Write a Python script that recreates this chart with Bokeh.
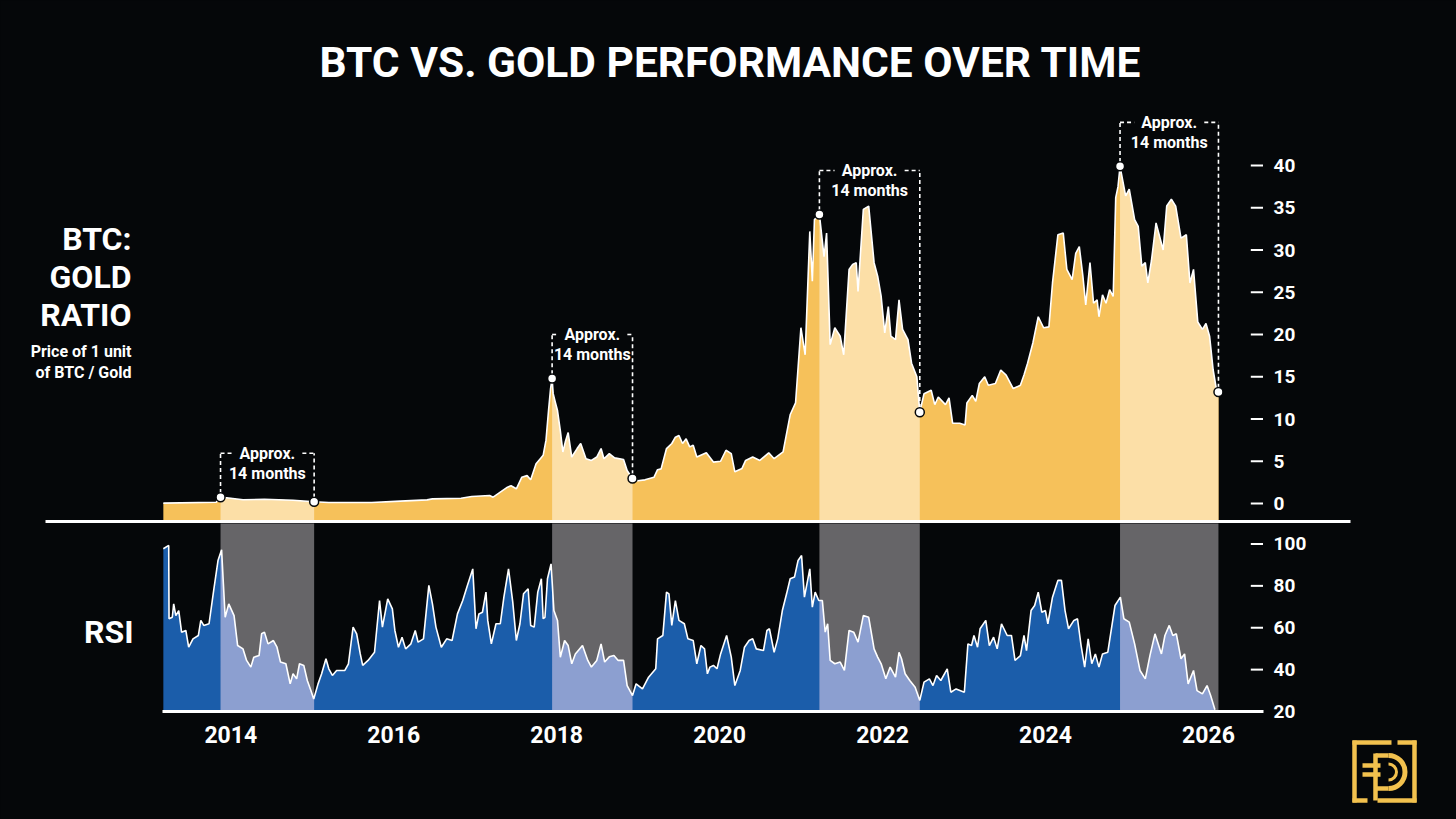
import numpy as np
from bokeh.plotting import figure
from bokeh.models import Range1d
from bokeh.core.properties import value
from bokeh.embed import file_html
from bokeh.resources import INLINE

try:
    from bokeh.models import GlobalInlineStyleSheet
except Exception:
    GlobalInlineStyleSheet = None

BG = "#050709"
GOLD = "#F6C15A"
GOLD_LIGHT = "#FCDFA7"
BLUE = "#1B5DAA"
BLUE_LIGHT = "#8C9FD0"
GRAY = "#666568"
LOGO = "#F2C14E"
FONT = "Roboto"

title = "BTC VS. GOLD PERFORMANCE OVER TIME"
year_ticks = [2014, 2016, 2018, 2020, 2022, 2024, 2026]
ratio_ticks = [0, 5, 10, 15, 20, 25, 30, 35, 40]
rsi_ticks = [20, 40, 60, 80, 100]

# highlighted ~14 month periods (fractional years)
hl_start = [2013.874, 2017.944, 2021.225, 2024.915]
hl_end = [2015.023, 2018.931, 2022.457, 2026.123]
hl_label1 = "Approx."
hl_label2 = "14 months"

# BTC : Gold ratio
ratio_t = [2013.172, 2013.821, 2013.874, 2013.975, 2014.150, 2014.413, 2014.764, 2015.023,
           2015.203, 2015.729, 2016.080, 2016.409, 2016.475, 2016.826, 2016.957, 2017.177,
           2017.220, 2017.308, 2017.396, 2017.440, 2017.505, 2017.571, 2017.637, 2017.681,
           2017.747, 2017.799, 2017.834, 2017.869, 2017.900, 2017.925, 2017.944, 2017.957,
           2017.983, 2018.010, 2018.045, 2018.076, 2018.106, 2018.141, 2018.185, 2018.251,
           2018.295, 2018.360, 2018.426, 2018.492, 2018.545, 2018.580, 2018.646, 2018.711,
           2018.821, 2018.865, 2018.931, 2018.996, 2019.084, 2019.194, 2019.238, 2019.282,
           2019.348, 2019.413, 2019.457, 2019.501, 2019.545, 2019.589, 2019.633, 2019.676,
           2019.720, 2019.837, 2019.924, 2020.012, 2020.078, 2020.143, 2020.187, 2020.275,
           2020.319, 2020.406, 2020.494, 2020.603, 2020.669, 2020.779, 2020.866, 2020.932,
           2020.998, 2021.050, 2021.107, 2021.138, 2021.164, 2021.225, 2021.282, 2021.313,
           2021.357, 2021.414, 2021.480, 2021.523, 2021.589, 2021.633, 2021.677, 2021.699,
           2021.764, 2021.830, 2021.896, 2021.940, 2021.983, 2022.027, 2022.071, 2022.102,
           2022.159, 2022.202, 2022.246, 2022.312, 2022.356, 2022.421, 2022.457, 2022.509,
           2022.597, 2022.641, 2022.684, 2022.772, 2022.816, 2022.860, 2022.947, 2023.013,
           2023.035, 2023.101, 2023.144, 2023.188, 2023.254, 2023.298, 2023.385, 2023.451,
           2023.517, 2023.604, 2023.692, 2023.736, 2023.780, 2023.845, 2023.911, 2023.977,
           2024.042, 2024.086, 2024.152, 2024.218, 2024.262, 2024.327, 2024.371, 2024.415,
           2024.459, 2024.494, 2024.546, 2024.590, 2024.634, 2024.656, 2024.700, 2024.743,
           2024.787, 2024.831, 2024.862, 2024.890, 2024.915, 2024.984, 2025.028, 2025.094,
           2025.138, 2025.182, 2025.225, 2025.256, 2025.300, 2025.357, 2025.401, 2025.444,
           2025.488, 2025.545, 2025.598, 2025.663, 2025.729, 2025.773, 2025.817, 2025.869,
           2025.926, 2025.970, 2026.014, 2026.058, 2026.093, 2026.123]
ratio_v = [0.05, 0.15, 0.75, 0.65, 0.45, 0.5, 0.38, 0.2,
           0.12, 0.12, 0.28, 0.43, 0.55, 0.63, 0.83, 0.95,
           0.75, 1.34, 1.93, 2.1, 1.74, 3.1, 3.3, 2.8,
           4.7, 5.3, 5.7, 7.5, 11.0, 13.6, 14.8, 13.0,
           12.0, 11.0, 8.6, 6.1, 7.3, 8.4, 5.5, 6.5,
           7.1, 5.3, 5.1, 5.5, 6.5, 5.3, 5.9, 5.4,
           5.2, 3.9, 2.95, 2.7, 2.8, 3.1, 4.0, 4.1,
           6.5, 7.1, 7.85, 8.05, 7.1, 7.65, 6.7, 6.9,
           5.5, 6.0, 4.9, 5.0, 6.3, 5.9, 3.75, 4.15,
           5.1, 5.5, 5.1, 6.0, 5.3, 6.1, 10.5, 11.9,
           20.8, 17.6, 32.2, 26.3, 33.6, 34.2, 29.2, 32.0,
           18.8, 20.8, 19.8, 17.6, 27.7, 28.3, 28.5, 25.1,
           34.8, 35.2, 28.5, 26.9, 24.5, 20.2, 23.3, 19.8,
           19.4, 24.1, 20.6, 19.4, 16.6, 15.0, 10.8, 13.0,
           13.4, 11.7, 12.6, 11.7, 12.5, 9.5, 9.5, 9.3,
           11.9, 12.8, 12.1, 14.2, 15.0, 14.0, 14.2, 15.8,
           15.2, 13.6, 14.0, 15.2, 16.6, 19.0, 22.1, 20.8,
           20.9, 26.1, 31.8, 32.0, 27.7, 26.5, 29.6, 30.4,
           26.9, 23.5, 28.5, 23.7, 24.1, 22.1, 24.7, 23.7,
           25.3, 24.5, 36.2, 37.5, 39.9, 36.4, 37.2, 33.6,
           32.8, 28.1, 28.5, 26.1, 28.7, 33.2, 31.6, 30.0,
           35.2, 36.0, 35.2, 31.4, 31.8, 26.1, 27.7, 21.5,
           20.6, 21.3, 19.8, 15.8, 13.8, 13.2]

# RSI
rsi_t = [2013.172, 2013.238, 2013.242, 2013.282, 2013.299, 2013.325, 2013.361, 2013.396,
         2013.448, 2013.483, 2013.536, 2013.602, 2013.632, 2013.668, 2013.733, 2013.790,
         2013.843, 2013.887, 2013.909, 2013.931, 2013.975, 2014.040, 2014.084, 2014.150,
         2014.194, 2014.246, 2014.282, 2014.347, 2014.378, 2014.413, 2014.457, 2014.523,
         2014.567, 2014.610, 2014.676, 2014.729, 2014.764, 2014.808, 2014.843, 2014.896,
         2014.939, 2014.983, 2015.018, 2015.071, 2015.115, 2015.168, 2015.203, 2015.247,
         2015.299, 2015.400, 2015.444, 2015.501, 2015.545, 2015.589, 2015.619, 2015.685,
         2015.764, 2015.826, 2015.861, 2015.926, 2015.983, 2016.014, 2016.058, 2016.102,
         2016.146, 2016.211, 2016.264, 2016.299, 2016.365, 2016.431, 2016.475, 2016.518,
         2016.584, 2016.650, 2016.716, 2016.782, 2016.847, 2016.904, 2016.970, 2017.010,
         2017.045, 2017.089, 2017.132, 2017.154, 2017.198, 2017.255, 2017.308, 2017.352,
         2017.409, 2017.461, 2017.505, 2017.549, 2017.593, 2017.650, 2017.681, 2017.724,
         2017.768, 2017.812, 2017.834, 2017.856, 2017.887, 2017.931, 2017.966, 2018.010,
         2018.045, 2018.097, 2018.141, 2018.185, 2018.229, 2018.317, 2018.382, 2018.426,
         2018.492, 2018.545, 2018.589, 2018.646, 2018.703, 2018.755, 2018.821, 2018.865,
         2018.931, 2018.975, 2019.053, 2019.128, 2019.216, 2019.238, 2019.303, 2019.348,
         2019.378, 2019.413, 2019.457, 2019.501, 2019.567, 2019.611, 2019.676, 2019.720,
         2019.771, 2019.815, 2019.850, 2019.881, 2019.924, 2019.968, 2020.012, 2020.086,
         2020.143, 2020.187, 2020.253, 2020.305, 2020.362, 2020.406, 2020.450, 2020.538,
         2020.581, 2020.612, 2020.669, 2020.713, 2020.770, 2020.822, 2020.866, 2020.919,
         2020.963, 2021.006, 2021.041, 2021.107, 2021.138, 2021.173, 2021.217, 2021.261,
         2021.296, 2021.326, 2021.357, 2021.414, 2021.480, 2021.532, 2021.589, 2021.646,
         2021.699, 2021.764, 2021.830, 2021.896, 2021.940, 2021.983, 2022.040, 2022.093,
         2022.159, 2022.202, 2022.233, 2022.277, 2022.334, 2022.400, 2022.457, 2022.509,
         2022.575, 2022.619, 2022.663, 2022.715, 2022.794, 2022.838, 2022.903, 2023.004,
         2023.048, 2023.092, 2023.122, 2023.166, 2023.197, 2023.267, 2023.311, 2023.363,
         2023.407, 2023.460, 2023.530, 2023.582, 2023.626, 2023.692, 2023.736, 2023.767,
         2023.823, 2023.867, 2023.911, 2023.955, 2023.999, 2024.029, 2024.086, 2024.152,
         2024.196, 2024.240, 2024.283, 2024.349, 2024.393, 2024.437, 2024.481, 2024.524,
         2024.568, 2024.612, 2024.656, 2024.700, 2024.765, 2024.853, 2024.919, 2024.962,
         2025.028, 2025.094, 2025.160, 2025.225, 2025.282, 2025.344, 2025.423, 2025.466,
         2025.519, 2025.563, 2025.606, 2025.663, 2025.707, 2025.751, 2025.817, 2025.860,
         2025.926, 2025.983, 2026.027, 2026.080]
rsi_v = [97.7, 99.3, 64.3, 65.0, 71.4, 65.8, 68.2, 57.9,
         58.7, 50.7, 54.7, 56.3, 63.5, 61.1, 61.9, 77.8,
         92.1, 97.2, 81.0, 65.0, 71.4, 65.8, 51.5, 49.9,
         44.4, 41.2, 45.9, 46.7, 57.1, 57.9, 52.3, 53.9,
         50.7, 43.6, 42.8, 33.2, 38.0, 35.6, 42.8, 42.0,
         34.8, 30.0, 26.0, 33.2, 38.0, 45.2, 40.4, 37.2,
         39.6, 39.6, 42.8, 60.3, 57.1, 47.5, 42.0, 44.4,
         48.3, 73.0, 60.3, 73.8, 69.0, 58.7, 50.7, 55.5,
         49.9, 52.3, 58.7, 53.1, 54.7, 80.2, 71.4, 60.3,
         50.7, 54.7, 53.9, 66.6, 73.0, 80.2, 88.1, 59.5,
         66.6, 67.4, 77.0, 63.5, 52.3, 61.9, 61.9, 74.6,
         88.1, 72.2, 53.9, 61.9, 76.2, 78.6, 61.1, 60.3,
         77.0, 83.4, 64.3, 65.0, 83.4, 90.5, 68.2, 63.5,
         45.9, 53.9, 51.5, 42.8, 47.5, 51.5, 44.4, 41.2,
         44.4, 52.3, 43.6, 46.1, 46.7, 44.4, 44.4, 32.4,
         27.6, 33.2, 30.8, 36.4, 40.4, 54.7, 56.3, 77.0,
         76.2, 61.1, 73.0, 63.5, 61.9, 54.7, 53.9, 42.8,
         51.5, 49.9, 38.0, 41.2, 42.0, 40.4, 47.5, 56.3,
         46.0, 32.4, 39.6, 50.7, 53.9, 54.7, 49.9, 49.1,
         58.7, 59.5, 48.3, 54.7, 68.2, 76.2, 83.4, 84.2,
         92.1, 94.5, 74.6, 88.1, 69.8, 77.0, 73.0, 73.0,
         57.9, 61.9, 44.4, 42.8, 43.6, 39.6, 58.7, 57.9,
         53.1, 65.8, 65.0, 49.9, 46.0, 42.8, 35.6, 41.2,
         36.4, 48.3, 45.2, 38.0, 34.8, 31.6, 25.3, 34.0,
         35.6, 32.4, 37.2, 34.8, 40.4, 29.2, 30.8, 29.2,
         52.3, 51.5, 56.3, 50.7, 59.5, 63.5, 51.5, 55.5,
         49.9, 61.9, 56.3, 56.3, 44.4, 46.7, 56.3, 49.1,
         68.2, 70.6, 77.0, 67.4, 68.2, 61.9, 74.6, 82.6,
         82.6, 68.2, 59.5, 63.5, 64.3, 51.5, 41.2, 54.7,
         42.8, 47.5, 41.2, 47.5, 48.3, 70.6, 74.6, 64.3,
         62.7, 52.3, 39.6, 35.6, 46.7, 57.1, 47.5, 56.3,
         61.1, 56.3, 57.1, 45.2, 47.5, 33.2, 39.6, 30.0,
         28.4, 32.4, 27.6, 20.8]

# ---------------------------------------------------------------------------
RATIO_BASE = -2.13   # ratio value at the separator line
RSI_BASE = 20
RSI_TOP = 109.8

p = figure(width=1456, height=819,
           x_range=Range1d(2011.1732, 2029.0449), y_range=Range1d(819, 0),
           x_axis_location=None, y_axis_location=None,
           output_backend="svg", toolbar_location=None, min_border=0,
           background_fill_color=BG, border_fill_color=BG, outline_line_color=None)
p.grid.visible = False
p.extra_y_ranges = {"ratio": Range1d(-37.396, 59.527), "rsi": Range1d(-31.576, 359.54)}
p.extra_x_ranges = {"px": Range1d(0, 1456)}
if GlobalInlineStyleSheet is not None:
    p.stylesheets = [GlobalInlineStyleSheet(
        css="html, body { background-color: #050709; overflow: hidden; }")]


def clip(ts, vs, a, b):
    ts = np.asarray(ts, dtype=float)
    vs = np.asarray(vs, dtype=float)
    b = min(b, ts[-1])
    inner = (ts > a) & (ts < b)
    x = np.concatenate([[a], ts[inner], [b]])
    y = np.concatenate([[np.interp(a, ts, vs)], vs[inner], [np.interp(b, ts, vs)]])
    return x, y


# grey RSI bands
p.quad(left=hl_start, right=hl_end, bottom=[RSI_BASE] * 4, top=[RSI_TOP] * 4,
       y_range_name="rsi", fill_color=GRAY, line_color=None)

# ratio area
p.varea(x=ratio_t, y1=RATIO_BASE, y2=ratio_v, y_range_name="ratio", fill_color=GOLD)
for a, b in zip(hl_start, hl_end):
    cx, cy = clip(ratio_t, ratio_v, a, b)
    p.varea(x=cx, y1=RATIO_BASE, y2=cy, y_range_name="ratio", fill_color=GOLD_LIGHT)
p.line(ratio_t, ratio_v, y_range_name="ratio", line_color="white", line_width=1.6)

# RSI area
p.varea(x=rsi_t, y1=RSI_BASE, y2=rsi_v, y_range_name="rsi", fill_color=BLUE)
for a, b in zip(hl_start, hl_end):
    cx, cy = clip(rsi_t, rsi_v, a, b)
    p.varea(x=cx, y1=RSI_BASE, y2=cy, y_range_name="rsi", fill_color=BLUE_LIGHT)
p.line(rsi_t, rsi_v, y_range_name="rsi", line_color="white", line_width=1.6)

# separator and bottom lines
p.segment(x0=[45], x1=[1350], y0=[521], y1=[521], x_range_name="px",
          line_color="white", line_width=3)
p.segment(x0=[162], x1=[1263], y0=[711], y1=[711], x_range_name="px",
          line_color="white", line_width=3)

# brackets
start_v = np.interp(hl_start, ratio_t, ratio_v)
end_v = np.interp(hl_end, ratio_t, ratio_v)
top_v = start_v + 5.2
mid = (np.array(hl_start) + np.array(hl_end)) / 2
gap = 0.43
dash = dict(line_color="white", line_width=1.6, line_dash="4 3", y_range_name="ratio")
p.segment(x0=hl_start, x1=hl_start, y0=start_v + 0.5, y1=top_v, **dash)
p.segment(x0=hl_end, x1=hl_end, y0=end_v + 0.5, y1=top_v, **dash)
p.segment(x0=hl_start, x1=mid - gap, y0=top_v, y1=top_v, **dash)
p.segment(x0=mid + gap, x1=hl_end, y0=top_v, y1=top_v, **dash)
txt = dict(text_font=value(FONT), text_font_style="bold", text_color="white",
           text_align="center", text_baseline="middle", y_range_name="ratio")
p.text(x=mid, y=top_v, text=[hl_label1] * 4, text_font_size="16px", **txt)
p.text(x=mid, y=top_v - 2.37, text=[hl_label2] * 4, text_font_size="16px", **txt)

# markers
p.scatter(x=list(hl_start) + list(hl_end), y=list(start_v) + list(end_v), y_range_name="ratio",
          size=9, fill_color="white", line_color=BG, line_width=1.5)

# right tick marks and labels
p.segment(x0=[2026.52] * len(ratio_ticks), x1=[2026.67] * len(ratio_ticks),
          y0=ratio_ticks, y1=ratio_ticks, y_range_name="ratio", line_color="white", line_width=2)
p.text(x=[2026.80] * len(ratio_ticks), y=ratio_ticks, text=[str(v) for v in ratio_ticks],
       y_range_name="ratio", text_font=value(FONT), text_font_style="bold",
       text_font_size="19px", text_color="white", text_align="left", text_baseline="middle")
p.segment(x0=[2026.52] * len(rsi_ticks), x1=[2026.67] * len(rsi_ticks),
          y0=rsi_ticks, y1=rsi_ticks, y_range_name="rsi", line_color="white", line_width=2)
p.text(x=[2026.80] * len(rsi_ticks), y=rsi_ticks, text=[str(v) for v in rsi_ticks],
       y_range_name="rsi", text_font=value(FONT), text_font_style="bold",
       text_font_size="19px", text_color="white", text_align="left", text_baseline="middle")

# year labels
p.text(x=year_ticks, y=[734] * len(year_ticks), text=[str(y) for y in year_ticks],
       text_font=value(FONT), text_font_style="bold", text_font_size="23px",
       text_color="white", text_align="center", text_baseline="middle")

# title and side labels
p.text(x=[730], y=[62], text=[title], x_range_name="px", text_font=value(FONT),
       text_font_style="bold", text_font_size="42.5px", text_color="white",
       text_align="center", text_baseline="middle")
p.text(x=[131] * 3, y=[238, 276, 314], text=["BTC:", "GOLD", "RATIO"], x_range_name="px",
       text_font=value(FONT), text_font_style="bold", text_font_size="32px",
       text_color="white", text_align="right", text_baseline="middle")
p.text(x=[131] * 2, y=[351, 372], text=["Price of 1 unit", "of BTC / Gold"], x_range_name="px",
       text_font=value(FONT), text_font_style="bold", text_font_size="16px",
       text_color="white", text_align="right", text_baseline="middle")
p.text(x=[133], y=[631], text=["RSI"], x_range_name="px",
       text_font=value(FONT), text_font_style="bold", text_font_size="32px",
       text_color="white", text_align="right", text_baseline="middle")

# logo
lg = dict(x_range_name="px", line_color=LOGO, line_width=4.5, line_cap="butt")
p.segment(x0=[1354, 1352, 1397, 1414, 1352, 1377, 1375, 1375, 1375, 1362, 1362],
          x1=[1354, 1391, 1416, 1414, 1367, 1416, 1375, 1388, 1388, 1380, 1380],
          y0=[740, 742, 742, 740, 800, 800, 753, 755, 788, 765, 774],
          y1=[802, 742, 742, 802, 800, 800, 800, 755, 788, 765, 774], **lg)
p.arc(x=[1388], y=[771.5], radius=16.5, radius_units="screen", start_angle=-np.pi / 2,
      end_angle=np.pi / 2, x_range_name="px", line_color=LOGO, line_width=5)
p.arc(x=[1388], y=[771.5], radius=8, radius_units="screen", start_angle=-np.pi / 2,
      end_angle=np.pi / 2, x_range_name="px", line_color=LOGO, line_width=3)

open("out.html", "w").write(file_html(p, INLINE))
